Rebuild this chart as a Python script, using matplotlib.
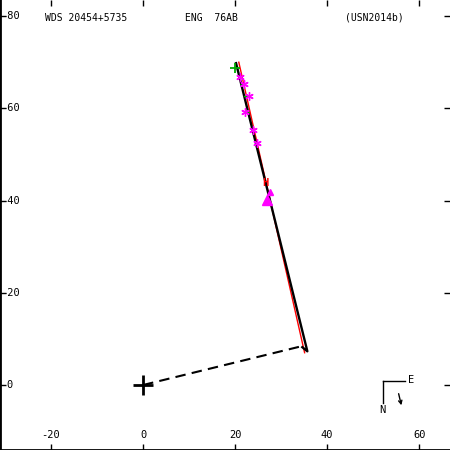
import matplotlib
matplotlib.use("Agg")
import matplotlib.pyplot as plt
from matplotlib.transforms import blended_transform_factory

# orbit (black), previous orbit (red), line of nodes (dashed)
orbit_x = [20.2, 35.7, 34.6]
orbit_y = [-69.8, -7.3, -8.2]
old_orbit_x = [20.8, 35.1]
old_orbit_y = [-70.0, -7.0]
node_x = [0.0, 34.0]
node_y = [0.0, -8.3]

# micrometer / photographic measures (magenta asterisks) and predicted positions
meas_x = [21.1, 22.0, 23.0, 22.2, 23.9, 24.8]
meas_y = [-66.7, -65.2, -62.6, -59.1, -55.2, -52.4]
pred_x = [20.97, 21.34, 21.98, 22.85, 23.81, 24.51]
pred_y = [-66.7, -65.2, -62.6, -59.1, -55.2, -52.4]

# first measure (green), speckle (magenta triangles), Hipparcos (red H)
first_x, first_y = [20.0], [-68.7]
tri_x = [27.6, 27.0]
tri_y = [-41.8, -40.2]
tri_size = [5, 7]
hip_x, hip_y = 26.6, -43.8

xticks = [-20, 0, 20, 40, 60]
yticks = [-80, -60, -40, -20, 0]

fig = plt.figure(figsize=(4.5, 4.5), dpi=100)
ax = fig.add_axes([0, 0, 1, 1])
ax.set_xlim(-31.1, 66.7)
ax.set_ylim(14.1, -83.5)

mono = "DejaVu Sans Mono"

ax.plot(old_orbit_x, old_orbit_y, color="red", lw=1)
ax.plot(orbit_x, orbit_y, color="black", lw=1.7)
ax.plot(node_x, node_y, color="black", lw=1.5, dashes=(5, 3))

for mx, my, px_, py_ in zip(meas_x, meas_y, pred_x, pred_y):
    ax.plot([mx, px_], [my, py_], color="#00aa00", lw=1)
ax.plot(meas_x, meas_y, ls="none", marker=(6, 2, 0), ms=6, mew=1, color="magenta")
ax.plot(first_x, first_y, ls="none", marker="+", ms=7, mew=1.3, color="#00aa00")
for tx, ty, ts in zip(tri_x, tri_y, tri_size):
    ax.plot(tx, ty, ls="none", marker="^", ms=ts, color="magenta", zorder=4)
ax.text(hip_x, hip_y, "H", color="red", fontsize=7.5, fontweight="bold",
        ha="center", va="center", family=mono, zorder=5)

# primary star
ax.plot([0], [0], ls="none", marker="+", ms=15, mew=2, color="black")

# ticks and labels inside the frame
for s in ["top", "right"]:
    ax.spines[s].set_visible(False)
ax.spines["left"].set_linewidth(2)
ax.spines["bottom"].set_linewidth(2)
ax.set_xticks(xticks)
ax.set_yticks(yticks)
ax.tick_params(direction="in", length=4, width=1, top=True, right=True,
               labelbottom=False, labelleft=False)

bx = blended_transform_factory(ax.transData, ax.transAxes)
for v in xticks:
    ax.text(v, 1 - 435 / 450, str(v), transform=bx, ha="center", va="center",
            fontsize=7.5, family=mono)
by = blended_transform_factory(ax.transAxes, ax.transData)
for v in yticks:
    x0 = 1 if v < 0 else 6.5
    ax.text(x0 / 450, v, str(v), transform=by, ha="left", va="center",
            fontsize=7.5, family=mono)

# header
ax.text(45 / 450, 1 - 18 / 450, "WDS 20454+5735", transform=ax.transAxes,
        ha="left", va="center", fontsize=7, family=mono)
ax.text(185 / 450, 1 - 18 / 450, "ENG  76AB", transform=ax.transAxes,
        ha="left", va="center", fontsize=7, family=mono)
ax.text(345 / 450, 1 - 18 / 450, "(USN2014b)", transform=ax.transAxes,
        ha="left", va="center", fontsize=7, family=mono)

# compass
def px(x, y):
    return (x / 450, 1 - y / 450)

ax.plot(*zip(px(383, 381), px(405, 381)), transform=ax.transAxes, color="black", lw=1)
ax.plot(*zip(px(383, 381), px(383, 403)), transform=ax.transAxes, color="black", lw=1)
ax.text(*px(411, 380), "E", transform=ax.transAxes, ha="center", va="center",
        fontsize=7.5, family=mono)
ax.text(*px(382, 410), "N", transform=ax.transAxes, ha="center", va="center",
        fontsize=7.5, family=mono)
ax.annotate("", xy=px(402, 408), xytext=px(398, 391),
            xycoords="axes fraction", textcoords="axes fraction",
            arrowprops=dict(arrowstyle="->", color="black", lw=1,
                            mutation_scale=6))

fig.savefig("out.png", dpi=100)
